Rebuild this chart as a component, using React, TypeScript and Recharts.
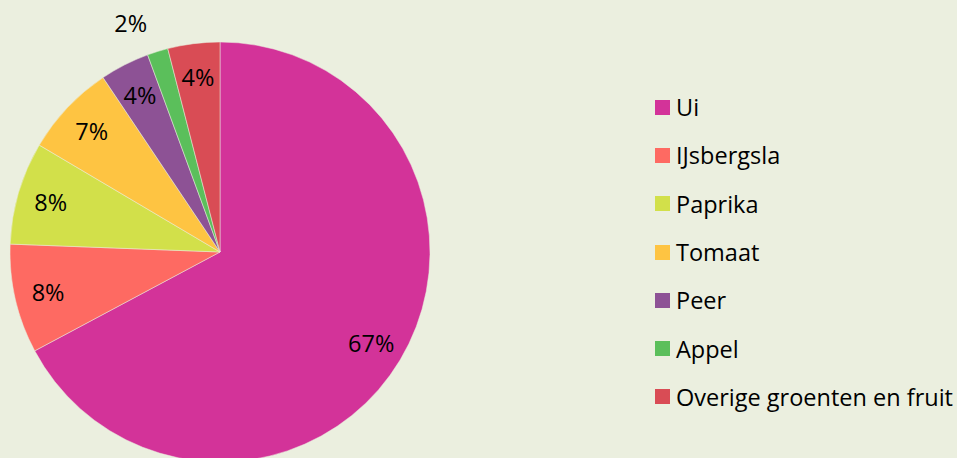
import React from 'react';
import { PieChart, Pie, Cell } from 'recharts';

document.body.style.margin = '0';

// product categories and their share (%)
const categories = ['Ui', 'IJsbergsla', 'Paprika', 'Tomaat', 'Peer', 'Appel', 'Overige groenten en fruit'];
const shares = [67.2, 8.4, 7.9, 7.1, 3.8, 1.6, 4.0];
const colors = ['#D33399', '#FE6A62', '#D2E04A', '#FEC442', '#8D5295', '#5BBF5B', '#D94C55'];

const chartData = categories.map((name, i) => ({ name, value: shares[i] }));

const FONT = '"Open Sans", "Noto Sans", sans-serif';
const RAD = Math.PI / 180;

function renderLabel(props: any) {
  const { cx, cy, midAngle, outerRadius, percent } = props;
  const small = percent < 0.02;
  const r = small ? outerRadius + 30 : outerRadius * 0.84;
  let x = cx + r * Math.cos(-midAngle * RAD);
  const y = cy + r * Math.sin(-midAngle * RAD);
  if (small) x -= 18;
  return (
    <text
      x={x}
      y={y}
      fill="#000"
      fontSize={23.5}
      fontFamily={FONT}
      textAnchor="middle"
      dominantBaseline="central"
    >
      {`${Math.round(percent * 100)}%`}
    </text>
  );
}

export default function App() {
  return (
    <div style={{ position: 'relative', width: 957, height: 458, background: '#EBEFDF', overflow: 'hidden' }}>
      <PieChart width={957} height={458} margin={{ top: 0, right: 0, bottom: 0, left: 0 }}>
        <Pie
          data={chartData}
          dataKey="value"
          nameKey="name"
          cx={220}
          cy={252}
          outerRadius={210}
          startAngle={90}
          endAngle={-270}
          stroke="#EBEFDF"
          strokeWidth={0.5}
          label={renderLabel}
          labelLine={false}
          isAnimationActive={false}
        >
          {chartData.map((d, i) => (
            <Cell key={d.name} fill={colors[i]} />
          ))}
        </Pie>
      </PieChart>
      {/* legend */}
      <div style={{ position: 'absolute', left: 655, top: 83, fontFamily: FONT, fontSize: 23.5, color: '#000' }}>
        {categories.map((name, i) => (
          <div key={name} style={{ display: 'flex', alignItems: 'center', height: 48.3 }}>
            <span style={{ width: 15, height: 15, background: colors[i], marginRight: 6, flexShrink: 0 }} />
            <span style={{ whiteSpace: 'nowrap' }}>{name}</span>
          </div>
        ))}
      </div>
    </div>
  );
}
